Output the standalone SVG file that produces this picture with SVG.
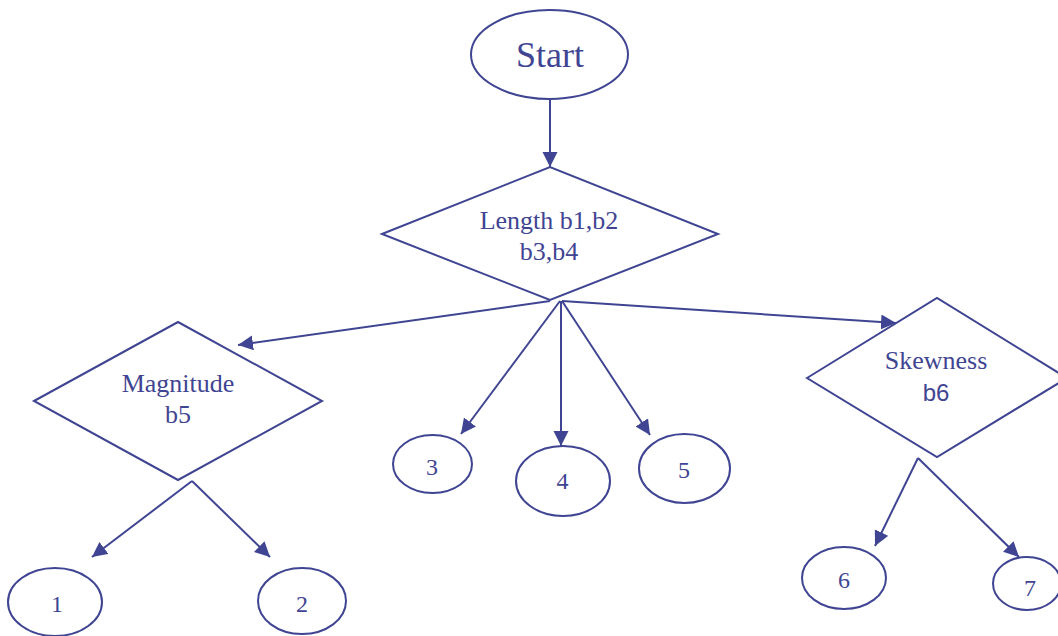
<svg xmlns="http://www.w3.org/2000/svg" width="1058" height="636" viewBox="0 0 1058 636">
<style>
.s{fill:none;stroke:#3f4592;stroke-width:2}
.c{fill:none;stroke:#3f4592;stroke-width:2;marker-end:url(#a)}
text{fill:#3f4592;font-family:"Liberation Serif","Times New Roman",serif;text-anchor:middle}
.t{font-size:26px}
.d{font-size:24px}
.sans{font-family:"Liberation Sans",Arial,sans-serif;font-size:24px}
</style>
<defs>
<marker id="a" markerUnits="userSpaceOnUse" markerWidth="16" markerHeight="16" refX="15" refY="7.5" orient="auto">
<path d="M0,0 L15,7.5 L0,15 z" fill="#3f4592"/>
</marker>
</defs>
<rect width="1058" height="636" fill="#fff"/>
<g id="connectors">
<line class="c" x1="550" y1="99" x2="550" y2="167"/>
<line class="c" x1="550" y1="301" x2="238" y2="345"/>
<line class="c" x1="562" y1="301" x2="896" y2="323"/>
<line class="c" x1="560" y1="301" x2="461" y2="434"/>
<line class="c" x1="561" y1="301" x2="561" y2="446"/>
<line class="c" x1="562" y1="301" x2="650" y2="435"/>
<line class="c" x1="192" y1="481" x2="92" y2="557"/>
<line class="c" x1="192" y1="481" x2="270" y2="557"/>
<line class="c" x1="918" y1="458" x2="875" y2="546"/>
<line class="c" x1="918" y1="458" x2="1019" y2="557"/>
</g>
<g id="start">
<ellipse class="s" cx="549.5" cy="54.5" rx="78.5" ry="44.5"/>
<text x="550" y="67" style="font-size:36px">Start</text>
</g>
<g id="length">
<polygon class="s" points="382,234 550,167 718,234 550,300"/>
<text class="t" x="549" y="229">Length b1,b2</text>
<text class="t" x="549" y="260">b3,b4</text>
</g>
<g id="magnitude">
<polygon class="s" points="34,401 178,322 322,401 178,480"/>
<text class="t" x="178" y="392">Magnitude</text>
<text class="t" x="178" y="423">b5</text>
</g>
<g id="skewness">
<polygon class="s" points="807,378 937,298 1067,378 937,457"/>
<text class="t" x="936" y="369">Skewness</text>
<text class="sans" x="936" y="401">b6</text>
</g>
<g id="n1"><ellipse class="s" cx="55" cy="602" rx="47" ry="34"/><text class="d" x="57" y="612">1</text></g>
<g id="n2"><ellipse class="s" cx="302" cy="601" rx="44" ry="33"/><text class="d" x="302" y="612">2</text></g>
<g id="n3"><ellipse class="s" cx="432.5" cy="464" rx="39.5" ry="29"/><text class="d" x="432" y="475">3</text></g>
<g id="n4"><ellipse class="s" cx="563" cy="481" rx="47" ry="35"/><text class="d" x="562.5" y="489">4</text></g>
<g id="n5"><ellipse class="s" cx="684.5" cy="468.5" rx="45.5" ry="34.5"/><text class="d" x="684" y="478">5</text></g>
<g id="n6"><ellipse class="s" cx="844" cy="578" rx="42" ry="31"/><text class="d" x="844" y="588">6</text></g>
<g id="n7"><ellipse class="s" cx="1027" cy="583.5" rx="34" ry="26.5"/><text class="d" x="1030" y="596">7</text></g>
</svg>
